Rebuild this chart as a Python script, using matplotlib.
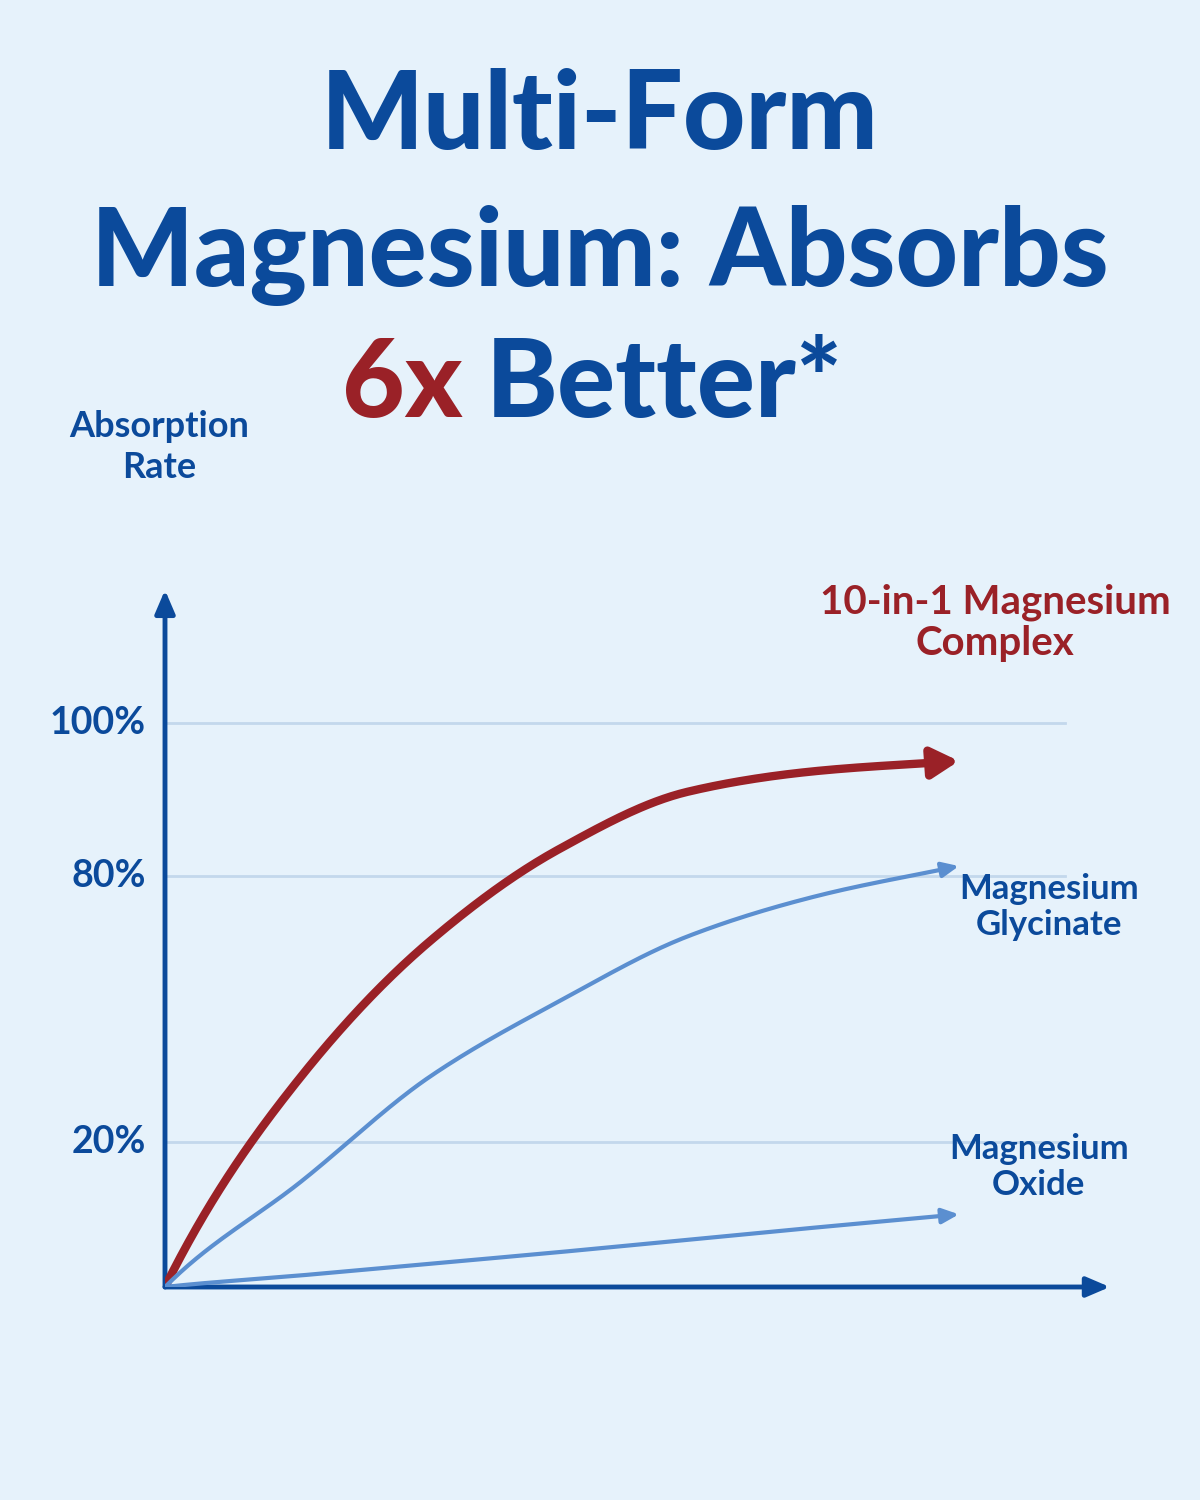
import numpy as np
import matplotlib
matplotlib.use("Agg")
import matplotlib.pyplot as plt

hours = [0, 1, 2, 3, 4, 5, 6.1]
complex_vals = [0, 34.7, 65.3, 83.5, 91, 93.7, 95]
glycinate_vals = [0, 14.5, 34.7, 51.7, 66.4, 75.5, 81.3]
oxide_vals = [0, 1.6, 3.2, 4.8, 6.5, 8.2, 10]
y_ticks = [20, 80, 100]
y_labels = ["20%", "80%", "100%"]
x_ticks = [0, 2, 4, 6]

BLUE = "#0b4a9b"; RED = "#9a2127"; LBLUE = "#5b8fd0"; GRID = "#c3d8ec"; BG = "#e6f2fb"
FONT = "Lato"

fv = np.array([0, 20, 80, 100, 200.0]); fp = np.array([0, 145, 410, 563, 563 + 765.0])
fwd = lambda v: np.interp(v, fv, fp, left=-1e3, right=2000)
inv = lambda p: np.interp(p, fp, fv, left=-10, right=300)

def pchip(x, y, xs):
    x = np.asarray(x, float); y = np.asarray(y, float)
    h = np.diff(x); d = np.diff(y) / h
    m = np.zeros_like(y)
    for k in range(1, len(x) - 1):
        if d[k-1] * d[k] > 0:
            w1 = 2*h[k] + h[k-1]; w2 = h[k] + 2*h[k-1]
            m[k] = (w1 + w2) / (w1/d[k-1] + w2/d[k])
    m[0] = d[0] * 1.3; m[-1] = d[-1]
    out = np.empty_like(xs)
    idx = np.clip(np.searchsorted(x, xs) - 1, 0, len(h) - 1)
    for i, (xx, k) in enumerate(zip(xs, idx)):
        t = (xx - x[k]) / h[k]
        h00 = 2*t**3 - 3*t**2 + 1; h10 = t**3 - 2*t**2 + t
        h01 = -2*t**3 + 3*t**2; h11 = t**3 - t**2
        out[i] = h00*y[k] + h10*h[k]*m[k] + h01*y[k+1] + h11*h[k]*m[k+1]
    return out

fig = plt.figure(figsize=(12, 15), dpi=100, facecolor=BG)
kw = dict(va="center", fontsize=78, fontweight="black", family=FONT)
fig.text(0.5, 1 - 118/1500, "Multi-Form", ha="center", color=BLUE, **kw)
fig.text(0.5, 1 - 255/1500, "Magnesium: Absorbs", ha="center", color=BLUE, **kw)
fig.text(0.385, 1 - 385/1500, "6x", ha="right", color=RED, **kw)
fig.text(0.405, 1 - 385/1500, "Better*", ha="left", color=BLUE, **kw)

ax = fig.add_axes([165/1200, 1 - 1287/1500, (1110-165)/1200, (1287-590)/1500])
ax.set_facecolor(BG)
ax.set_yscale("function", functions=(fwd, inv))
x0 = (165-172)/129
ax.set_xlim(x0, (1110-172)/129)
ax.set_ylim(0, 117.3)
for s in ax.spines.values(): s.set_visible(False)
ax.set_xticks([]); ax.set_yticks([])

for yt, lab in zip(y_ticks, y_labels):
    ax.plot([x0, 6.92], [yt, yt], color=GRID, lw=2, zorder=1)
    ax.text(-0.2, yt, lab, ha="right", va="center", fontsize=27, fontweight="bold", color=BLUE, family=FONT, clip_on=False)
for xt in x_ticks:
    ax.text(xt, -7.5, str(xt), ha="center", va="center", fontsize=28, fontweight="bold", color=BLUE, family=FONT, clip_on=False)
ax.text(7.1, -7.5, "Hour", ha="center", va="center", fontsize=27, fontweight="bold", color=BLUE, family=FONT, clip_on=False)

ap = dict(arrowstyle="-|>,head_length=1.4,head_width=0.6", color=BLUE, lw=3.5, shrinkA=0, shrinkB=0)
ax.annotate("", xy=(7.27, 0), xytext=(x0, 0), arrowprops=ap, annotation_clip=False)
ax.annotate("", xy=(x0, 117.3), xytext=(x0, 0), arrowprops=ap, annotation_clip=False)
ax.text(-0.1, 136, "Absorption\nRate", ha="center", va="center", fontsize=26, fontweight="bold", color=BLUE, family=FONT, linespacing=1.3, clip_on=False)

xs = np.linspace(x0, 6.0, 300)
for vals, col, lw, hl, hw in [(complex_vals, RED, 6, 1.6, 0.9), (glycinate_vals, LBLUE, 3, 1.0, 0.45), (oxide_vals, LBLUE, 3, 1.0, 0.45)]:
    hx = [x0] + hours[1:]
    ys = inv(pchip(hx, fwd(np.array(vals)), xs))
    ax.plot(xs, ys, color=col, lw=lw, solid_capstyle="butt", zorder=3)
    ax.annotate("", xy=(hours[-1], vals[-1]), xytext=(xs[-1], ys[-1]),
                arrowprops=dict(arrowstyle=f"-|>,head_length={hl},head_width={hw}", color=col, lw=lw, shrinkA=0, shrinkB=0), zorder=4)

lk = dict(ha="center", va="center", fontweight="bold", family=FONT, linespacing=1.15, clip_on=False)
ax.text(6.38, 113, "10-in-1 Magnesium\nComplex", color=RED, fontsize=29, **lk)
ax.text(6.8, 73, "Magnesium\nGlycinate", color=BLUE, fontsize=25, **lk)
ax.text(6.72, 16.5, "Magnesium\nOxide", color=BLUE, fontsize=25, **lk)

fig.savefig("out.png", dpi=100, facecolor=BG)
